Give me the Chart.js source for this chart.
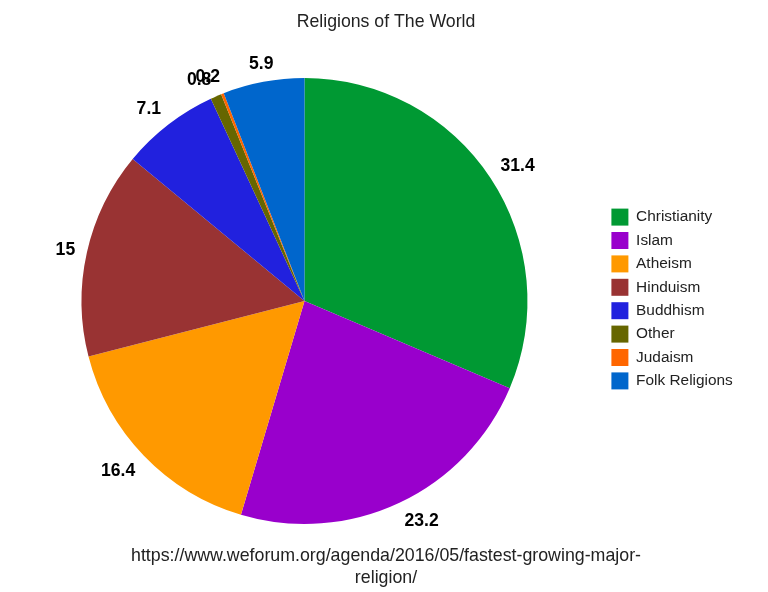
<!DOCTYPE html>
<html>
<head>
<meta charset="utf-8">
<script src="https://cdn.jsdelivr.net/npm/chart.js@4/dist/chart.umd.min.js"></script>
<style>
  html, body { margin: 0; padding: 0; background: #fff; }
  #wrap { width: 768px; height: 592px; position: relative; }
</style>
</head>
<body>
<div id="wrap"><canvas id="religionChart"></canvas></div>
<script>
const religions = ['Christianity', 'Islam', 'Atheism', 'Hinduism', 'Buddhism', 'Other', 'Judaism', 'Folk Religions'];
const shares = [31.4, 23.2, 16.4, 15, 7.1, 0.8, 0.2, 5.9];
const sliceColors = ['#009933', '#9900cc', '#ff9900', '#993333', '#2121de', '#666600', '#ff6600', '#0066cc'];
const sourceLines = ['https://www.weforum.org/agenda/2016/05/fastest-growing-major-', 'religion/'];

const fontFamily = '"Liberation Sans", Arial, sans-serif';
const legendWidth = 163;

// give the legend a fixed width so the pie sits left and titles stay centred
const wideLegend = {
    id: 'wideLegend',
    beforeLayout(chart) {
        const lg = chart.legend;
        if (lg && !lg._wideFit) {
            const origFit = lg.fit.bind(lg);
            lg.fit = function () {
                origFit();
                this.width = Math.max(this.width, legendWidth);
            };
            lg._wideFit = true;
        }
    }
};

function side(c) {
    // 0 near the axis, +-1 once clearly off to one side
    const t = Math.min(1, Math.max(0, (Math.abs(c) - 0.2) / 0.2));
    return Math.sign(c) * t;
}

// numbers outside each slice, nearest corner of the text at a fixed gap off the rim
const outsideLabels = {
    id: 'outsideLabels',
    afterDatasetsDraw(chart) {
        const ctx = chart.ctx;
        const meta = chart.getDatasetMeta(0);
        ctx.save();
        ctx.font = 'bold 17.6px ' + fontFamily;
        ctx.fillStyle = '#000';
        ctx.textAlign = 'center';
        ctx.textBaseline = 'middle';
        meta.data.forEach(function (arc, i) {
            const p = arc.getProps(['x', 'y', 'startAngle', 'endAngle', 'outerRadius'], true);
            const mid = (p.startAngle + p.endAngle) / 2;
            const txt = String(shares[i]);
            const halfW = ctx.measureText(txt).width / 2;
            const halfH = 6.5;
            const cx = Math.cos(mid), cy = Math.sin(mid);
            const d = p.outerRadius + 12;
            const tx = p.x + cx * d + halfW * side(cx);
            const ty = p.y + cy * d + halfH * side(cy);
            ctx.fillText(txt, tx, ty + 1);
        });
        ctx.restore();
    }
};

const ctx = document.getElementById('religionChart').getContext('2d');
new Chart(ctx, {
    type: 'pie',
    data: {
        labels: religions,
        datasets: [{
            data: shares,
            backgroundColor: sliceColors,
            borderWidth: 0
        }]
    },
    options: {
        responsive: true,
        maintainAspectRatio: false,
        animation: false,
        layout: { padding: { left: 4, right: 0, top: 0, bottom: 0 } },
        plugins: {
            title: {
                display: true,
                text: 'Religions of The World',
                color: '#222',
                font: { family: fontFamily, size: 17.7, weight: 'normal', lineHeight: 1.2 },
                padding: { top: 11.9, bottom: 44.9 }
            },
            subtitle: {
                display: true,
                position: 'bottom',
                text: sourceLines,
                color: '#222',
                font: { family: fontFamily, size: 17.8, weight: 'normal', lineHeight: 1.236 },
                padding: { top: 21, bottom: 3 }
            },
            legend: {
                position: 'right',
                title: {
                    display: true,
                    text: '',
                    font: { size: 1, lineHeight: 1 },
                    padding: { top: 5, bottom: 0 }
                },
                labels: {
                    boxWidth: 17,
                    boxHeight: 17,
                    padding: 6.4,
                    color: '#222',
                    font: { family: fontFamily, size: 15.4 }
                }
            },
            tooltip: { enabled: false }
        }
    },
    plugins: [wideLegend, outsideLabels]
});
</script>
</body>
</html>
